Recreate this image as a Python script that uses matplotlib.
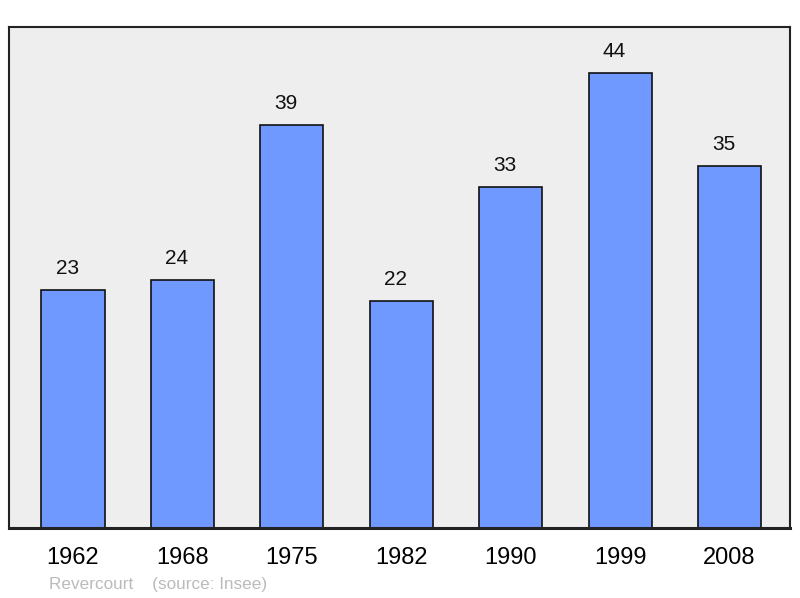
import matplotlib
matplotlib.use("Agg")
import matplotlib.pyplot as plt

years = ["1962", "1968", "1975", "1982", "1990", "1999", "2008"]
population = [23, 24, 39, 22, 33, 44, 35]
commune = "Revercourt"

plt.rcParams['font.family'] = ['Liberation Sans', 'DejaVu Sans']

fig = plt.figure(figsize=(8, 5.98), dpi=100)
ax = fig.add_axes([9 / 800, 70 / 598, 781 / 800, 501 / 598])
ax.set_facecolor('#eeeeee')

x = range(len(years))
ax.bar(x, population, width=0.576, color='#7099ff', edgecolor='#111111',
       linewidth=1.2, zorder=2)
for i, v in zip(x, population):
    ax.annotate(str(v), (i, v), xytext=(-4, 8.5), textcoords='offset points',
                ha='center', va='bottom', fontsize=15, color='#111111')

ax.set_xlim(-0.585, 6.553)
ax.set_ylim(0, 48.45)
ax.set_xticks(list(x))
ax.set_xticklabels(years, fontsize=17)
ax.tick_params(axis='x', length=0, pad=14)
ax.set_yticks([])
for side in ['top', 'right', 'left']:
    ax.spines[side].set_linewidth(1.5)
    ax.spines[side].set_color('#222222')
ax.spines['bottom'].set_linewidth(2.2)
ax.spines['bottom'].set_color('#222222')

fig.text(49 / 800, 1 - 585 / 598, commune + "    (source: Insee)", fontsize=12.3,
         color='#bbbbbb', ha='left', va='center')

fig.savefig('out.png', dpi=100)
